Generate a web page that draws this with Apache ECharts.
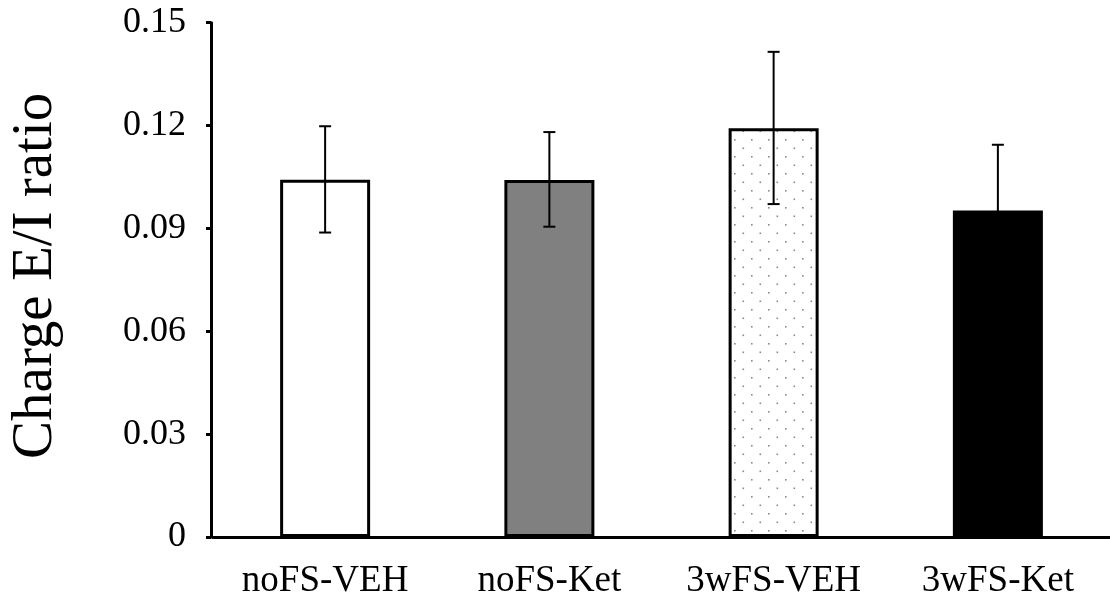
<!DOCTYPE html>
<html>
<head>
<meta charset="utf-8">
<script src="https://cdn.jsdelivr.net/npm/echarts@6/dist/echarts.min.js"></script>
<style>html,body{margin:0;padding:0;background:#fff}#c{width:1110px;height:600px}</style>
</head>
<body>
<div id="c"></div>
<script>
const categories = ['noFS-VEH', 'noFS-Ket', '3wFS-VEH', '3wFS-Ket'];
const means = [0.1042, 0.1041, 0.1192, 0.0952];
const errUpper = [0.1198, 0.1181, 0.1415, 0.1144];
const errLower = [0.0888, 0.0905, 0.0971, 0.0760];
const yTickValues = [0, 0.03, 0.06, 0.09, 0.12, 0.15];
const yTickLabels = ['0', '0.03', '0.06', '0.09', '0.12', '0.15'];

// dotted pattern for 3wFS-VEH
const pc = document.createElement('canvas');
pc.width = 17; pc.height = 17;
const pctx = pc.getContext('2d');
pctx.fillStyle = '#ffffff';
pctx.fillRect(0, 0, 17, 17);
pctx.fillStyle = '#8a8a8a';
pctx.fillRect(3, 3, 1.6, 1.6);
pctx.fillRect(11.5, 11.5, 1.6, 1.6);

const fills = ['#ffffff', '#808080', {image: pc, repeat: 'repeat'}, '#000000'];

const chart = echarts.init(document.getElementById('c'), null, {renderer: 'canvas'});
const font = '"Liberation Serif", "Times New Roman", serif';

chart.setOption({
  animation: false,
  backgroundColor: '#ffffff',
  grid: {left: 212, right: -4, top: 22.7, bottom: 60, containLabel: false},
  xAxis: {
    type: 'category',
    data: categories,
    axisLine: {lineStyle: {color: '#000', width: 3}},
    axisTick: {show: false},
    axisLabel: {color: '#000', fontFamily: font, fontSize: 37, margin: 26, interval: 0, hideOverlap: false}
  },
  yAxis: {
    type: 'value',
    min: 0, max: 0.15, interval: 0.03,
    offset: 2,
    name: 'Charge E/I ratio',
    nameLocation: 'middle',
    nameGap: 146,
    nameTextStyle: {color: '#000', fontFamily: font, fontSize: 57, padding: [0, 0, 0, 8]},
    axisLine: {show: true, lineStyle: {color: '#000', width: 3}},
    axisTick: {show: true, inside: false, length: 5, lineStyle: {color: '#000', width: 3}},
    splitLine: {show: false},
    axisLabel: {
      color: '#000', fontFamily: font, fontSize: 36, margin: 25,
      formatter: function (v) {
        const i = yTickValues.findIndex(t => Math.abs(t - v) < 1e-9);
        return i >= 0 ? yTickLabels[i] : '';
      }
    }
  },
  series: [
    {
      type: 'bar',
      barWidth: 90,
      data: means.map((v, i) => ({
        value: v,
        itemStyle: {color: fills[i], borderColor: '#000', borderWidth: 3}
      })),
      z: 2
    },
    {
      type: 'custom',
      z: 5,
      data: categories.map((c, i) => [i, errLower[i], errUpper[i]]),
      renderItem: function (params, api) {
        const x = api.value(0);
        const lo = api.coord([x, api.value(1)]);
        const hi = api.coord([x, api.value(2)]);
        const hw = 6;
        const style = {stroke: '#000', lineWidth: 2};
        return {
          type: 'group',
          children: [
            {type: 'line', shape: {x1: hi[0], y1: hi[1], x2: lo[0], y2: lo[1]}, style: style},
            {type: 'line', shape: {x1: hi[0] - hw, y1: hi[1], x2: hi[0] + hw, y2: hi[1]}, style: style},
            {type: 'line', shape: {x1: lo[0] - hw, y1: lo[1], x2: lo[0] + hw, y2: lo[1]}, style: style}
          ]
        };
      }
    }
  ]
});
</script>
</body>
</html>
